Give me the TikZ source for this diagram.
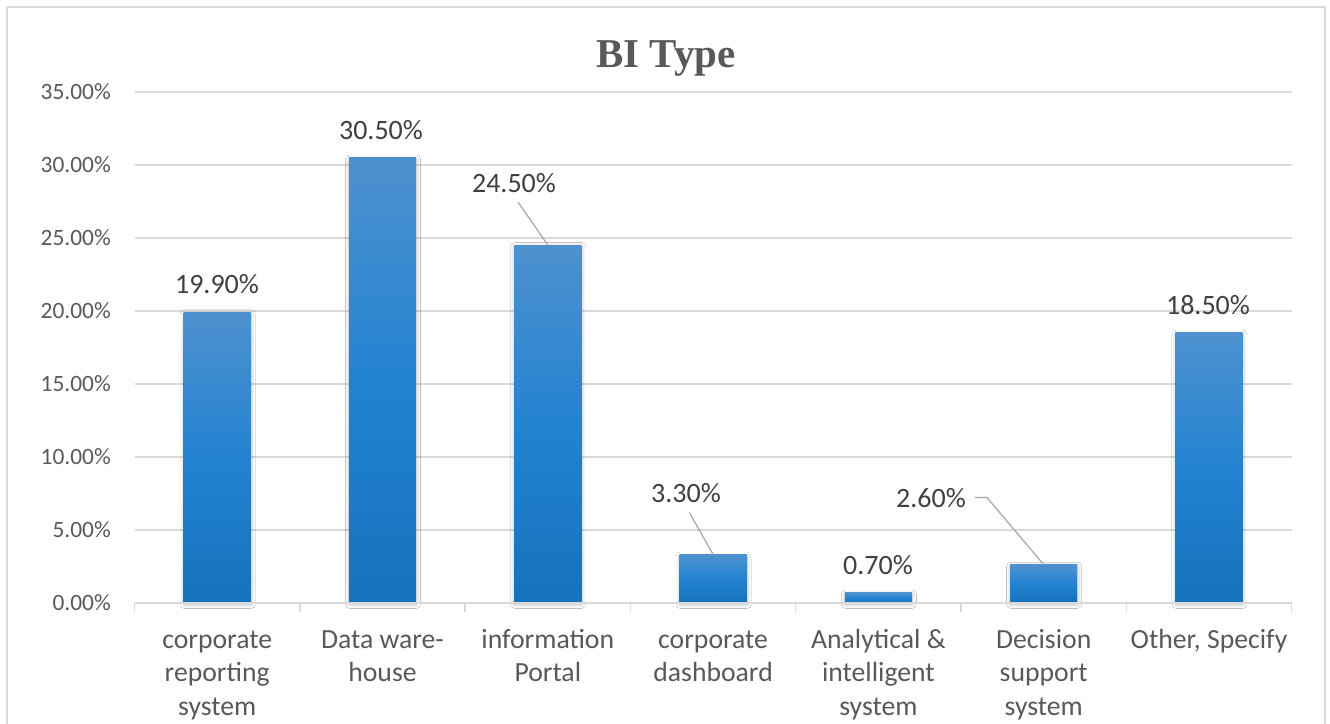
\documentclass[tikz,border=0pt]{standalone}
\usepackage{fontspec}
\setmainfont{Carlito}
\newfontfamily\titlefont{Liberation Serif}
\usetikzlibrary{shadows.blur}

\definecolor{gridgray}{HTML}{D9D9D9}
\definecolor{axistext}{HTML}{595959}
\definecolor{labeltext}{HTML}{404040}
\definecolor{leadergray}{HTML}{A6A6A6}
\definecolor{bartop}{HTML}{4E91CF}
\definecolor{barmid}{HTML}{2383D1}
\definecolor{barbot}{HTML}{1572BC}
\pgfdeclareverticalshading{barfade}{100bp}{color(0bp)=(barbot); color(25bp)=(barbot); color(50bp)=(barmid); color(75bp)=(bartop); color(100bp)=(bartop)}

\tikzset{
  gridline/.style={draw=gridgray, line width=1.5pt},
  ylab/.style={anchor=base east, inner sep=0pt, text=axistext, font=\fontsize{23.4}{28}\selectfont},
  catlab/.style={anchor=base, inner sep=0pt, align=center, text=axistext, font=\fontsize{27.7}{33.5}\selectfont},
  vallab/.style={anchor=base, inner sep=4pt, text=labeltext, font=\fontsize{28}{34}\selectfont},
  leader/.style={draw=leadergray, line width=1.2pt},
  barbox/.style={rectangle, inner sep=0pt, minimum width=67pt, anchor=south, shading=barfade,
    blur shadow={shadow xshift=0.5pt, shadow yshift=-1.5pt, shadow blur radius=4pt,
      shadow blur steps=14, shadow opacity=28}},
}

\begin{document}
\begin{tikzpicture}[x=1pt, y=-1pt]
\useasboundingbox (0,0) rectangle (1330,723);
\fill[white] (0,0) rectangle (1330,723);

% chart frame
\draw[gridgray, line width=1.5pt] (7,7) -- (1325,7) -- (1325,740);
\draw[gridgray, line width=1.5pt] (7,7) -- (7,740);

% title
\node[anchor=base, inner sep=0pt, text=axistext, font=\titlefont\bfseries\fontsize{41}{48}\selectfont] (title) at (666,67) {BI Type};

% horizontal grid and value axis labels
\foreach \k/\t in {1/5.00\%,2/10.00\%,3/15.00\%,4/20.00\%,5/25.00\%,6/30.00\%,7/35.00\%}{
  \draw[gridline] (134.5,{603-73*\k}) -- (1291.6,{603-73*\k});
  \node[ylab] (y\k) at (111,{603-73*\k+7.5}) {\t};
}
\node[ylab] (y0) at (111,610.5) {0.00\%};

% bars
\foreach \i/\v in {1/19.9,2/30.5,3/24.5,4/3.3,5/0.7,6/2.6,7/18.5}{
  \node[barbox, minimum height=\v*14.6pt] (bar\i) at ({134.5+165.3*(\i-0.5)},603) {};
}

% category axis with tick marks
\draw[gridline] (134.5,603) -- (1291.6,603);
\foreach \j in {0,...,7}{
  \draw[gridline] ({134.5+165.3*\j},603) -- ({134.5+165.3*\j},612);
}

% category labels (base anchor sits on the last line)
\node[catlab] (cat1) at (217.2,715) {corporate\\reporting\\system};
\node[catlab] (cat2) at (382.5,681.5) {Data ware-\\house};
\node[catlab] (cat3) at (547.8,681.5) {information\\Portal};
\node[catlab] (cat4) at (713.1,681.5) {corporate\\dashboard};
\node[catlab] (cat5) at (878.4,715) {Analytical \&\\intelligent\\system};
\node[catlab] (cat6) at (1043.7,715) {Decision\\support\\system};
\node[catlab] (cat7) at (1209,648) {Other, Specify};

% data labels
\node[vallab] (val1) at (217,293) {19.90\%};
\node[vallab] (val2) at (381,139) {30.50\%};
\node[vallab] (val3) at (514,192) {24.50\%};
\node[vallab] (val4) at (686,502) {3.30\%};
\node[vallab] (val5) at (878,574) {0.70\%};
\node[vallab] (val6) at (931,507) {2.60\%};
\node[vallab] (val7) at (1208,314) {18.50\%};

% leader lines for displaced labels
\draw[leader, shorten <=7pt] (val3.south) -- (bar3.north);
\draw[leader, shorten <=7pt] (val4.south) -- (bar4.north);
\draw[leader, shorten <=5pt] (val6.east) -- ++(17,0) -- (bar6.north);
\end{tikzpicture}
\end{document}
